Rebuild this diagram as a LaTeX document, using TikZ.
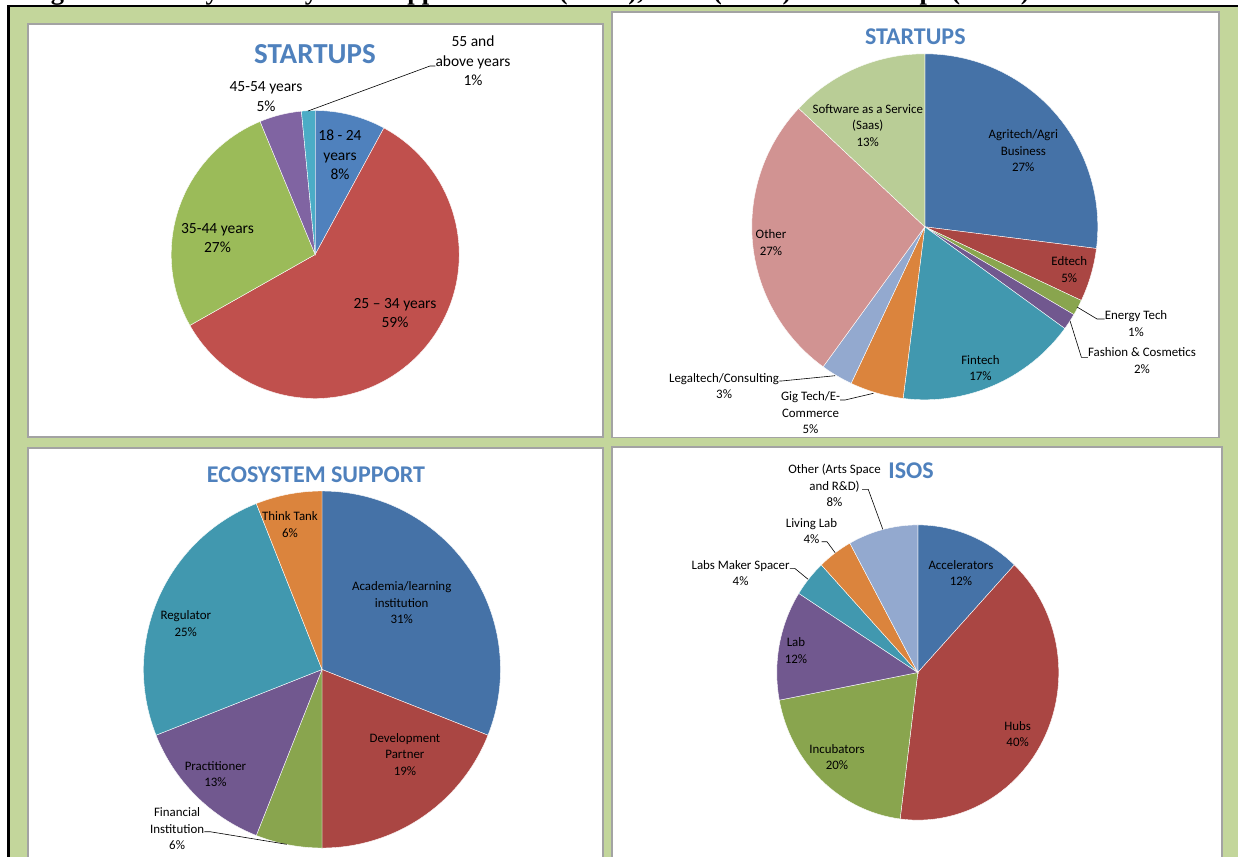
\documentclass[tikz,border=0pt]{standalone}
\usepackage{fontspec}
\setmainfont{Carlito}
\newfontfamily\capfont{Liberation Serif}
\definecolor{titleblue}{HTML}{4F81BD}
\definecolor{bggreen}{HTML}{C3D69B}
\definecolor{panelgray}{HTML}{A3A3A3}
\definecolor{pA}{HTML}{4F81BD}
\definecolor{pB}{HTML}{C0504D}
\definecolor{pC}{HTML}{9BBB59}
\definecolor{pD}{HTML}{8064A2}
\definecolor{pE}{HTML}{4BACC6}
\definecolor{cA}{HTML}{4572A7}
\definecolor{cB}{HTML}{AA4643}
\definecolor{cC}{HTML}{89A54E}
\definecolor{cD}{HTML}{71588F}
\definecolor{cE}{HTML}{4198AF}
\definecolor{cF}{HTML}{DB843D}
\definecolor{cG}{HTML}{93A9CF}
\definecolor{cH}{HTML}{D19392}
\definecolor{cI}{HTML}{B9CD96}
\newcommand\pslice[7]{\fill[#7,draw=white,line width=0.4bp] (#1,#2) -- ++(#5:#3bp and #4bp) arc[start angle=#5,end angle=#6,x radius=#3bp,y radius=#4bp] -- cycle;}
\tikzset{
  lblA/.style={font=\fontsize{15.5bp}{19.5bp}\selectfont, align=center, inner sep=0pt, text=black},
  lbl/.style={font=\fontsize{12.9bp}{16.5bp}\selectfont, align=center, inner sep=0pt, text=black},
  ttl/.style={font=\fontsize{24bp}{28bp}\selectfont\bfseries, text=titleblue, inner sep=0pt},
  panel/.style={fill=white, draw=panelgray, line width=1.2bp},
  leader/.style={draw=black, line width=0.6bp},
}
\begin{document}
\begin{tikzpicture}[x=1bp,y=1bp]
\useasboundingbox (0,0) rectangle (1238,-857);
\clip (0,0) rectangle (1238,-857);
% background frame
\fill[bggreen] (8,-6) rectangle (1240,-860);
\draw[black,line width=2.4bp] (8.3,-870) -- (8.3,-6.2) -- (1240,-6.2);
% caption (cut off at the top)
\node[anchor=base west, inner sep=0pt, font=\capfont\bfseries\fontsize{26.5bp}{30bp}\selectfont] (caption) at (27,0.5) {Figure 4: Surveyed Ecosystem Support Actors (N=16), ISOs (N=25) and Startups (N=85)};
% panels
\draw[panel] (28,-24) rectangle (603,-437);
\draw[panel] (612,-12) rectangle (1219,-437.5);
\draw[panel] (28,-448) rectangle (603,-875);
\draw[panel] (612,-447) rectangle (1222,-875);

% ---------- Panel 1: STARTUPS ages ----------
\coordinate (c1) at (315.2,-254.5);
\pslice{315.2}{-254.5}{144}{144}{90}{61.5}{pA}
\pslice{315.2}{-254.5}{144}{144}{61.5}{-150.5}{pB}
\pslice{315.2}{-254.5}{144}{144}{-150.5}{-247.5}{pC}
\pslice{315.2}{-254.5}{144}{144}{-247.5}{-264.5}{pD}
\pslice{315.2}{-254.5}{144}{144}{-264.5}{-270}{pE}
\node[ttl, font=\fontsize{29bp}{33bp}\selectfont\bfseries] (t1) at (315,-54) {STARTUPS};
\node[lblA] (a1) at (340,-155) {18 - 24\\years\\8\%};
\node[lblA] (a2) at (395,-313) {25 – 34 years\\59\%};
\node[lblA] (a3) at (217.5,-237.8) {35-44 years\\27\%};
\node[lblA] (a4) at (266,-96.7) {45-54 years\\5\%};
\node[lblA] (a5) at (473,-61) {55 and\\above years\\1\%};
\coordinate (k1) at (430,-66);
\coordinate (k2) at (308,-111);
\draw[leader] (a5.west |- k1) -- (k1) -- (k2);

% ---------- Panel 2: STARTUPS sectors ----------
\coordinate (c2) at (924.8,-226.8);
\pslice{924.8}{-226.8}{173}{173}{90}{-7.2}{cA}
\pslice{924.8}{-226.8}{173}{173}{-7.2}{-25.2}{cB}
\pslice{924.8}{-226.8}{173}{173}{-25.2}{-30.5}{cC}
\pslice{924.8}{-226.8}{173}{173}{-30.5}{-36}{cD}
\pslice{924.8}{-226.8}{173}{173}{-36}{-97.2}{cE}
\pslice{924.8}{-226.8}{173}{173}{-97.2}{-115.2}{cF}
\pslice{924.8}{-226.8}{173}{173}{-115.2}{-126}{cG}
\pslice{924.8}{-226.8}{173}{173}{-126}{-223.2}{cH}
\pslice{924.8}{-226.8}{173}{173}{-223.2}{-270}{cI}
\node[ttl] (t2) at (915.3,-37.2) {STARTUPS};
\node[lbl] (b1) at (867.8,-125.3) {Software as a Service\\(Saas)\\13\%};
\node[lbl] (b2) at (1023.3,-151) {Agritech/Agri\\Business\\27\%};
\node[lbl] (b3) at (771,-242.8) {Other\\27\%};
\node[lbl] (b4) at (1069.3,-269.7) {Edtech\\5\%};
\node[lbl] (b5) at (1136,-323.8) {Energy Tech\\1\%};
\node[lbl] (b6) at (1142,-360.5) {Fashion \& Cosmetics\\2\%};
\node[lbl] (b7) at (980.5,-368.2) {Fintech\\17\%};
\node[lbl] (b8) at (724.1,-386.2) {Legaltech/Consulting\\3\%};
\node[lbl] (b9) at (810.5,-412.8) {Gig Tech/E-\\Commerce\\5\%};
\coordinate (e1) at (1077,-307);
\coordinate (e2) at (1097,-319);
\draw[leader] (b5.west |- e2) -- (e2) -- (e1);
\coordinate (f1) at (1070.1,-321);
\coordinate (f2) at (1081.4,-357.3);
\draw[leader] (b6.west |- f2) -- (f2) -- (f1);
\coordinate (g1) at (781.5,-381);
\coordinate (g2) at (835.1,-375.7);
\draw[leader] (b8.east |- g1) -- (g1) -- (g2);
\coordinate (h1) at (845,-400);
\coordinate (h2) at (873.5,-393.3);
\draw[leader] (b9.east |- h1) -- (h1) -- (h2);

% ---------- Panel 3: ECOSYSTEM SUPPORT ----------
\coordinate (c3) at (322,-669.5);
\pslice{322}{-669.5}{178.5}{178.5}{90}{-21.6}{cA}
\pslice{322}{-669.5}{178.5}{178.5}{-21.6}{-90}{cB}
\pslice{322}{-669.5}{178.5}{178.5}{-90}{-111.6}{cC}
\pslice{322}{-669.5}{178.5}{178.5}{-111.6}{-158.4}{cD}
\pslice{322}{-669.5}{178.5}{178.5}{-158.4}{-248.4}{cE}
\pslice{322}{-669.5}{178.5}{178.5}{-248.4}{-270}{cF}
\node[ttl] (t3) at (316,-474.7) {ECOSYSTEM SUPPORT};
\node[lbl] (d1) at (290,-524.5) {Think Tank\\6\%};
\node[lbl] (d2) at (401.7,-603) {Academia/learning\\institution\\31\%};
\node[lbl] (d3) at (185.8,-623.7) {Regulator\\25\%};
\node[lbl] (d4) at (404.9,-754.5) {Development\\Partner\\19\%};
\node[lbl] (d5) at (215.5,-774.2) {Practitioner\\13\%};
\node[lbl] (d6) at (177.1,-829) {Financial\\Institution\\6\%};
\coordinate (m1) at (210,-831.7);
\coordinate (m2) at (286.7,-844.3);
\draw[leader] (d6.east |- m1) -- (m1) -- (m2);

% ---------- Panel 4: ISOS ----------
\coordinate (c4) at (917.8,-672.5);
\pslice{917.8}{-672.5}{141}{147.6}{90}{46.8}{cA}
\pslice{917.8}{-672.5}{141}{147.6}{46.8}{-97.2}{cB}
\pslice{917.8}{-672.5}{141}{147.6}{-97.2}{-169.2}{cC}
\pslice{917.8}{-672.5}{141}{147.6}{-169.2}{-212.4}{cD}
\pslice{917.8}{-672.5}{141}{147.6}{-212.4}{-226.8}{cE}
\pslice{917.8}{-672.5}{141}{147.6}{-226.8}{-241.2}{cF}
\pslice{917.8}{-672.5}{141}{147.6}{-241.2}{-270}{cG}
\node[ttl] (t4) at (911,-471) {ISOS};
\node[lbl] (i1) at (960.9,-573.3) {Accelerators\\12\%};
\node[lbl] (i2) at (1017.6,-734.2) {Hubs\\40\%};
\node[lbl] (i3) at (837,-757.3) {Incubators\\20\%};
\node[lbl] (i4) at (796,-650.5) {Lab\\12\%};
\node[lbl] (i5) at (740.6,-573.3) {Labs Maker Spacer\\4\%};
\node[lbl] (i6) at (811.5,-531.2) {Living Lab\\4\%};
\node[lbl] (i7) at (834.5,-485.5) {Other (Arts Space\\and R\&D)\\8\%};
\coordinate (n1) at (794.7,-568.3);
\coordinate (n2) at (808.1,-579.3);
\draw[leader] (i5.east |- n1) -- (n1) -- (n2);
\coordinate (q0) at (821.5,-541.7);
\coordinate (q1) at (827,-541.7);
\coordinate (q2) at (835.1,-552.7);
\draw[leader] (q0) -- (q1) -- (q2);
\coordinate (r0) at (862,-489.3);
\coordinate (r1) at (868.2,-489.3);
\coordinate (r2) at (882.8,-529.3);
\draw[leader] (r0) -- (r1) -- (r2);
\end{tikzpicture}
\end{document}
